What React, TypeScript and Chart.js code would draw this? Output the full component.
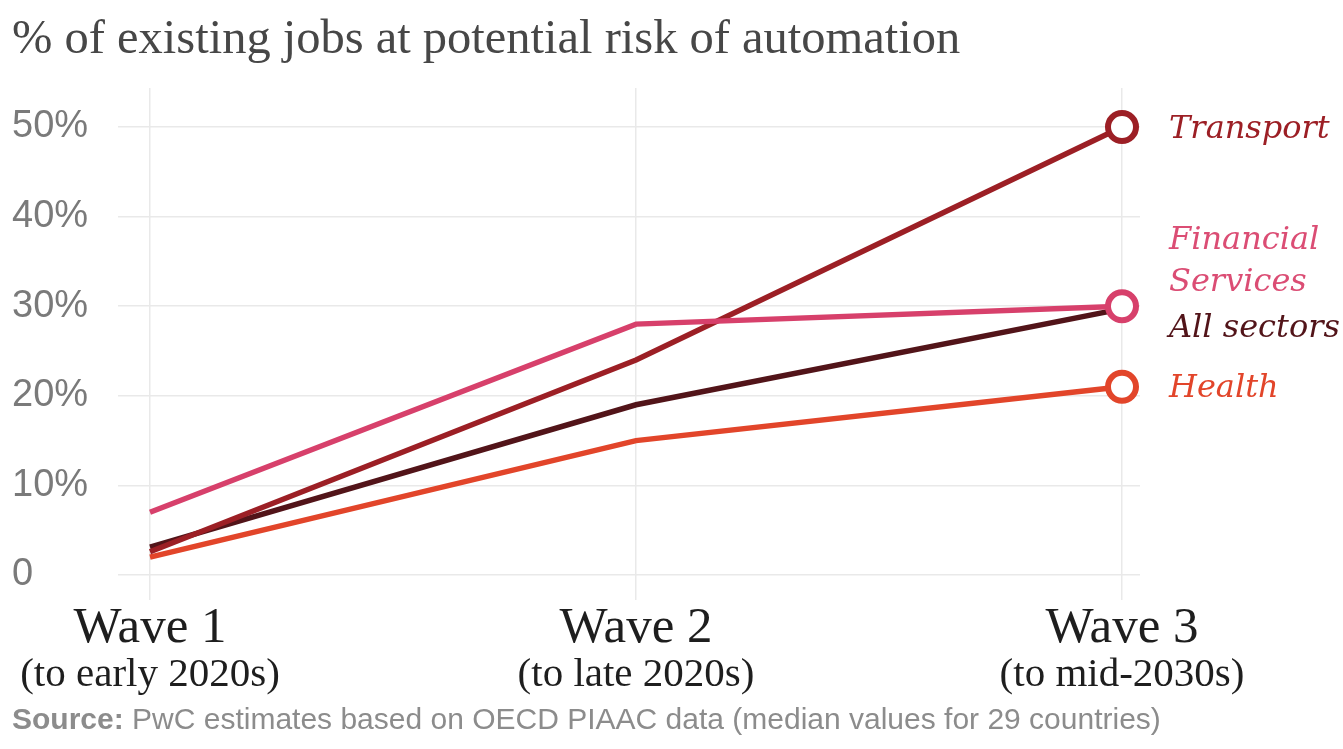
import React, { useEffect, useRef } from 'react';
import { Chart, registerables } from 'chart.js';

Chart.register(...registerables);

const waveLabels = ['Wave 1', 'Wave 2', 'Wave 3'];
const waveSubLabels = ['(to early 2020s)', '(to late 2020s)', '(to mid-2030s)'];
const waveX = [0, 1, 2];
const transport = [2.6, 24, 50];
const financial = [7, 28, 30];
const allSectors = [3.1, 19, 29.7];
const health = [2, 15, 21];
const yTicks = [0, 10, 20, 30, 40, 50];

const TITLE = '% of existing jobs at potential risk of automation';
const SOURCE_BOLD = 'Source:';
const SOURCE_TEXT = ' PwC estimates based on OECD PIAAC data (median values for 29 countries)';

const COLORS = {
  transport: '#9c1f25',
  financial: '#d7406b',
  financialText: '#db4d74',
  all: '#521419',
  health: '#e2452a',
};

const SERIF = '"Liberation Serif", "DejaVu Serif", serif';
const SLAB = '"DejaVu Serif", serif';
const SANS = '"Liberation Sans", Arial, sans-serif';

const toPts = (vals: number[]) => vals.map((v, i) => ({ x: waveX[i], y: v }));

const textPlugin = {
  id: 'textPlugin',
  afterDraw(chart: any) {
    const ctx = chart.ctx;
    const xs = chart.scales.x;
    const ys = chart.scales.y;
    ctx.save();
    // title
    ctx.fillStyle = '#474747';
    ctx.font = `48.5px ${SERIF}`;
    ctx.textAlign = 'left';
    ctx.textBaseline = 'alphabetic';
    ctx.fillText(TITLE, 12, 53);

    // x labels
    ctx.textAlign = 'center';
    waveX.forEach((v, i) => {
      const px = xs.getPixelForValue(v);
      ctx.fillStyle = '#1e1e1e';
      ctx.font = `51px ${SERIF}`;
      ctx.fillText(waveLabels[i], px, 642);
      ctx.font = `41px ${SERIF}`;
      ctx.fillText(waveSubLabels[i], px, 686);
    });

    // end labels
    const lx = xs.getPixelForValue(2) + 47;
    ctx.textAlign = 'left';
    ctx.textBaseline = 'middle';
    ctx.font = `italic 32px ${SLAB}`;
    const yT = ys.getPixelForValue(transport[2]);
    ctx.fillStyle = COLORS.transport;
    ctx.fillText('Transport', lx, yT + 3);
    const yF = ys.getPixelForValue(financial[2]);
    ctx.fillStyle = COLORS.financialText;
    ctx.fillText('Financial', lx, yF - 66);
    ctx.fillText('Services', lx, yF - 24);
    const yA = ys.getPixelForValue(allSectors[2]);
    ctx.fillStyle = COLORS.all;
    ctx.fillText('All sectors', lx, yA + 20);
    const yH = ys.getPixelForValue(health[2]);
    ctx.fillStyle = COLORS.health;
    ctx.fillText('Health', lx, yH + 2);

    // source
    ctx.textBaseline = 'alphabetic';
    ctx.fillStyle = '#8c8c8c';
    ctx.font = `bold 30px ${SANS}`;
    ctx.fillText(SOURCE_BOLD, 12, 729);
    const w = ctx.measureText(SOURCE_BOLD).width;
    ctx.font = `30px ${SANS}`;
    ctx.fillText(SOURCE_TEXT, 12 + w, 729);
    ctx.restore();
  },
};

export default function App() {
  const ref = useRef<HTMLCanvasElement>(null);
  useEffect(() => {
    if (!ref.current) return;
    const endOnly = (r: number) => [0, 0, r];
    const chart = new Chart(ref.current, {
      type: 'line',
      data: {
        datasets: [
          {
            label: 'Financial Services',
            data: toPts(financial),
            borderColor: COLORS.financial,
            backgroundColor: '#ffffff',
            borderWidth: 5.5,
            pointRadius: endOnly(14),
            pointBorderWidth: 6,
            pointBorderColor: COLORS.financial,
            pointBackgroundColor: '#ffffff',
            order: 1,
          },
          {
            label: 'Transport',
            data: toPts(transport),
            borderColor: COLORS.transport,
            backgroundColor: '#ffffff',
            borderWidth: 5.5,
            pointRadius: endOnly(14),
            pointBorderWidth: 6,
            pointBorderColor: COLORS.transport,
            pointBackgroundColor: '#ffffff',
            order: 2,
          },
          {
            label: 'All sectors',
            data: toPts(allSectors),
            borderColor: COLORS.all,
            borderWidth: 5.5,
            pointRadius: 0,
            order: 3,
          },
          {
            label: 'Health',
            data: toPts(health),
            borderColor: COLORS.health,
            backgroundColor: '#ffffff',
            borderWidth: 5.5,
            pointRadius: endOnly(14),
            pointBorderWidth: 6,
            pointBorderColor: COLORS.health,
            pointBackgroundColor: '#ffffff',
            order: 4,
          },
        ],
      },
      options: {
        animation: false,
        responsive: false,
        devicePixelRatio: 1,
        layout: { padding: { left: 12, right: 203, top: 88, bottom: 149 } },
        plugins: {
          legend: { display: false },
          tooltip: { enabled: false },
          title: { display: false },
        },
        elements: { line: { tension: 0, borderCapStyle: 'butt' } },
        scales: {
          x: {
            type: 'linear',
            min: -32 / 486,
            max: 2 + 18 / 486,
            afterBuildTicks: (s: any) => {
              s.ticks = waveX.map((v) => ({ value: v }));
            },
            afterFit: (s: any) => {
              s.height = 25;
            },
            grid: { color: '#e9e9e9', lineWidth: 1.5, drawTicks: true, tickLength: 25 },
            border: { display: false },
            ticks: { display: false },
          },
          y: {
            type: 'linear',
            min: 0,
            max: (50 * 487) / 448,
            afterBuildTicks: (s: any) => {
              s.ticks = yTicks.map((v) => ({ value: v }));
            },
            afterFit: (s: any) => {
              s.width = 106;
            },
            grid: { color: '#e9e9e9', lineWidth: 1.5, drawTicks: false },
            border: { display: false },
            ticks: {
              crossAlign: 'far',
              padding: 0,
              color: '#7a7a7a',
              font: { family: SANS, size: 38 },
              callback: (v: any) => (v === 0 ? '0' : `${v}%`),
            },
          },
        },
      },
      plugins: [textPlugin],
    } as any);
    return () => chart.destroy();
  }, []);
  return (
    <div style={{ position: 'fixed', left: 0, top: 0, width: 1343, height: 749, background: '#ffffff' }}>
      <canvas ref={ref} width={1343} height={749} style={{ width: 1343, height: 749, display: 'block' }} />
    </div>
  );
}
